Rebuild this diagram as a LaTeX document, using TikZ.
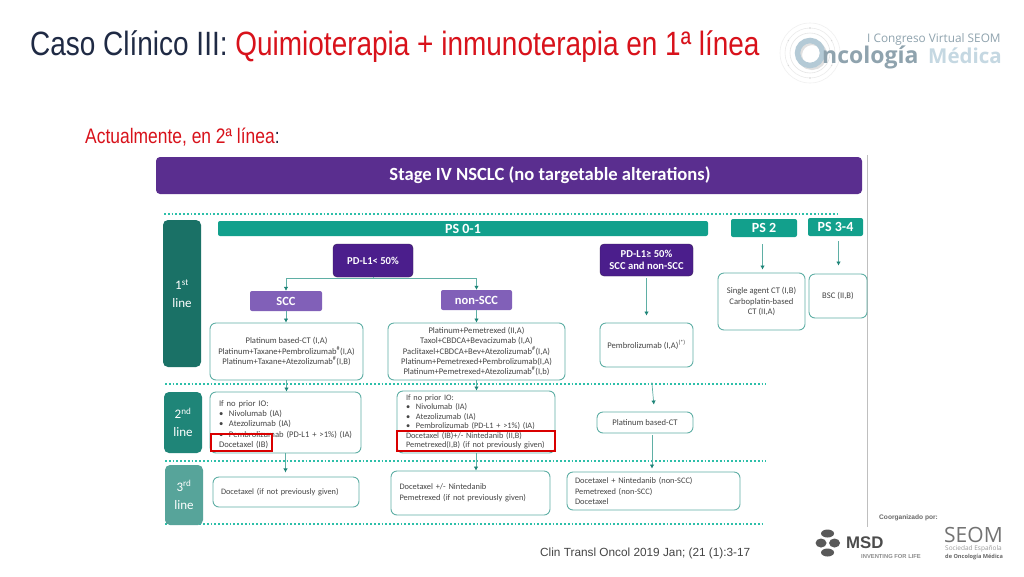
\documentclass[tikz,border=0pt]{standalone}
\usepackage{fontspec}
\setmainfont{Carlito}
\newfontfamily\arialfont{Liberation Sans}
\newfontfamily\narrowfont[FakeStretch=0.83]{Liberation Sans}
\newfontfamily\logofont{Open Sans}
\usetikzlibrary{arrows.meta}
\definecolor{titlenavy}{HTML}{1F2A44}
\definecolor{titlered}{HTML}{D8121B}
\definecolor{headpurple}{HTML}{5A2E8F}
\definecolor{deeppurple}{HTML}{4B1E8C}
\definecolor{softpurple}{HTML}{8160B8}
\definecolor{psteal}{HTML}{12A08C}
\definecolor{dotteal}{HTML}{2DBFA9}
\definecolor{edgeteal}{HTML}{5FAFA5}
\definecolor{tipteal}{HTML}{1F8578}
\definecolor{bodygrey}{HTML}{454545}
\definecolor{logoblue}{HTML}{B4CAD6}
\definecolor{logodark}{HTML}{8FA3AE}
\definecolor{logopale}{HTML}{C5D8E2}
\tikzset{
	drugbox/.style={draw=edgeteal, line width=0.9pt, rounded corners=6pt, inner sep=0pt, text=bodygrey, align=center, font=\fontsize{8.6}{10.2}\selectfont},
	listbox/.style={drugbox, align=left},
	linebox/.style={rounded corners=5pt, inner sep=0pt, text=white, align=center, font=\fontsize{13}{18}\selectfont},
	psbox/.style={fill=psteal, rounded corners=2pt, inner sep=0pt, text=white, font=\bfseries\fontsize{14}{16}\selectfont},
	pdbox/.style={fill=deeppurple, draw=headpurple!60!black, rounded corners=4pt, inner sep=0pt, text=white, align=center, font=\bfseries\fontsize{10.6}{12.5}\selectfont},
	histbox/.style={fill=softpurple, rounded corners=2pt, inner sep=0pt, text=white, font=\bfseries\fontsize{12.5}{14}\selectfont},
	redbox/.style={draw=red!85!black, line width=1.2pt, inner sep=0pt},
	flow/.style={draw=edgeteal, line width=0.7pt, -{Latex[length=4pt,width=4.5pt,color=tipteal]}},
	dotrule/.style={draw=dotteal, line width=1.7pt, dash pattern=on 1.7pt off 2.1pt}
}
\newcommand{\bitem}[1]{\mbox{\makebox[10pt][l]{\textbullet}#1}}
\begin{document}
\begin{tikzpicture}[x=1pt, y=-1pt]
	\useasboundingbox[fill=white] (0,0) rectangle (1024,576);

	\node[anchor=west, inner sep=0pt, text=titlenavy, font=\narrowfont\fontsize{33.7}{36}\selectfont] (title) at (30,47) {Caso Clínico III: \textcolor{titlered}{Quimioterapia + inmunoterapia en 1ª línea}};
	\node[anchor=west, inner sep=0pt, text=titlered, font=\narrowfont\fontsize{21}{24}\selectfont] (subtitle) at (85,137) {Actualmente, en 2ª línea\textcolor{titlenavy}{:}};

	\draw[black!25, line width=1pt] (867.5,155) -- (867.5,527);

	\node[fill=headpurple, rounded corners=4pt, minimum width=706pt, minimum height=37pt, inner sep=0pt, text=white, font=\bfseries\fontsize{18.6}{20}\selectfont] (stage) at (509,175.5) {\hspace{82pt}\raisebox{-1.5pt}{Stage IV NSCLC (no targetable alterations)}};

	\draw[dotrule] (164,214) -- (840,214);
	\draw[dotrule] (165,384) -- (766,384);
	\draw[dotrule] (165,461) -- (766,461);
	\draw[dotrule] (165,524) -- (762,524);

	\node[linebox, fill=tipteal!85!black, minimum width=38pt, minimum height=147pt] (first) at (182,293.5) {1\textsuperscript{st}\\line};
	\node[linebox, fill=tipteal, minimum width=38pt, minimum height=61pt] (second) at (183,422.5) {2\textsuperscript{nd}\\line};
	\node[linebox, fill=tipteal!75!white, minimum width=38pt, minimum height=60pt] (third) at (184,495) {3\textsuperscript{rd}\\line};

	\node[psbox, minimum width=490pt, minimum height=15pt] (psa) at (463,228.5) {PS 0-1};
	\node[psbox, minimum width=66pt, minimum height=18pt] (psb) at (764,228) {PS 2};
	\node[psbox, minimum width=55pt, minimum height=18pt] (psc) at (835.5,227) {PS 3-4};

	\node[pdbox, minimum width=80pt, minimum height=33pt] (pdlow) at (373,260.5) {PD-L1< 50\%};
	\node[pdbox, minimum width=93pt, minimum height=32pt] (pdhigh) at (646.5,260) {PD-L1≥ 50\%\\SCC and non-SCC};

	\node[histbox, minimum width=72pt, minimum height=20pt] (scc) at (286,301) {SCC};
	\node[histbox, minimum width=71pt, minimum height=20pt] (nonscc) at (476.5,300) {non-SCC};

	\node[drugbox, minimum width=153pt, minimum height=57pt] (sccone) at (286.5,351.5) {Platinum based-CT (I,A)\\Platinum+Taxane+Pembrolizumab\textsuperscript{\#}(I,A)\\Platinum+Taxane+Atezolizumab\textsuperscript{\#}(I,B)};
	\node[drugbox, minimum width=177pt, minimum height=57pt] (nonone) at (476.5,351.5) {Platinum+Pemetrexed (II,A)\\Taxol+CBDCA+Bevacizumab (I,A)\\Paclitaxel+CBDCA+Bev+Atezolizumab\textsuperscript{\#}(I,A)\\Platinum+Pemetrexed+Pembrolizumab(I,A)\\Platinum+Pemetrexed+Atezolizumab\textsuperscript{\#}(I,b)};
	\node[drugbox, minimum width=93pt, minimum height=44pt] (pembro) at (646.5,345) {Pembrolizumab (I,A)\textsuperscript{(*)}};
	\node[drugbox, minimum width=87pt, minimum height=57pt] (single) at (761.5,301.5) {Single agent CT (I,B)\\Carboplatin-based\\CT (II,A)};
	\node[drugbox, minimum width=58pt, minimum height=44pt] (bsc) at (838,296) {BSC (II,B)};

	\node[listbox, minimum width=151pt, minimum height=61pt, text width=133pt, font=\fontsize{8.6}{10.3}\selectfont] (scctwo) at (285.5,422.5) {\rule{0pt}{10pt}If no prior IO:\\\bitem{Nivolumab (IA)}\\\bitem{Atezolizumab (IA)}\\\bitem{Pembrolizumab (PD-L1 + >1\%) (IA)}\\Docetaxel (IB)};
	\node[listbox, minimum width=158pt, minimum height=62pt, text width=140pt, font=\fontsize{8.3}{9.5}\selectfont] (nontwo) at (476,422) {If no prior IO:\\\bitem{Nivolumab (IA)}\\\bitem{Atezolizumab (IA)}\\\bitem{Pembrolizumab (PD-L1 + >1\%) (IA)}\\Docetaxel (IB)+/- Nintedanib (II,B)\\Pemetrexed(I,B) (if not previously given)};
	\node[drugbox, minimum width=96pt, minimum height=21pt] (platin) at (645,422.5) {Platinum based-CT};

	\node[listbox, minimum width=146pt, minimum height=30pt, text width=130pt, font=\fontsize{8.3}{10}\selectfont] (sccthree) at (286,492) {Docetaxel (if not previously given)};
	\node[listbox, minimum width=159pt, minimum height=44pt, text width=142pt, font=\fontsize{8.4}{10.8}\selectfont] (nonthree) at (470.5,493) {Docetaxel +/- Nintedanib\\Pemetrexed (if not previously given)};
	\node[listbox, minimum width=173pt, minimum height=38pt, text width=157pt, font=\fontsize{8.4}{10.2}\selectfont] (pemthree) at (653.5,491) {Docetaxel + Nintedanib (non-SCC)\\Pemetrexed (non-SCC)\\Docetaxel};

	\node[redbox, minimum width=61pt, minimum height=17pt] (redscc) at (241.5,442.5) {};
	\node[redbox, minimum width=158pt, minimum height=20pt] (rednon) at (476,441) {};

	\draw[flow] (pdlow.south) -- ++(0,1) -| (scc.north);
	\draw[flow] (pdlow.south) -- ++(0,1) -| (nonscc.north);
	\draw[flow] (scc.south) -- (scc.south |- sccone.north);
	\draw[flow] (nonscc.south) -- (nonscc.south |- nonone.north);
	\draw[flow] (sccone.south) -- (sccone.south |- scctwo.north);
	\draw[flow] (nonone.south) -- (nonone.south |- nontwo.north);
	\draw[flow, shorten <=2pt, shorten >=7pt] (pdhigh.south) -- (pdhigh.south |- pembro.north);
	\draw[flow, shorten <=15pt, shorten >=7pt] ([xshift=4pt]pembro.south) -- ([xshift=9.5pt]platin.north);
	\draw[flow, shorten <=2pt, shorten >=3pt] ([xshift=7pt]platin.south) -- ([xshift=-1.5pt]pemthree.north);
	\draw[flow, shorten <=7pt, shorten >=3pt] ([xshift=-1.5pt]psb.south) -- ([xshift=1pt]single.north);
	\draw[flow, shorten <=5pt, shorten >=8pt] ([xshift=3pt]psc.south) -- ([xshift=0.5pt]bsc.north);
	\draw[flow] (scctwo.south) -- ++(0,19);
	\draw[flow] (nontwo.south) -- (nontwo.south |- nonthree.north);

	\foreach \ringr/\ringc in {30/black!6, 25/black!8, 20/black!10}
		\draw[\ringc, line width=0.6pt] (810,53) circle (\ringr pt);
	\foreach \dotang in {30,90,150,210,270,330}
		\fill[black!15] (810,53) ++(\dotang:25pt) circle (0.8pt);
	\draw[black!12, line width=5pt] (812,55) circle (12.5pt);
	\draw[logoblue, line width=5.5pt] (810,53) circle (12.5pt);
	\node[anchor=west, inner sep=0pt, text=logodark, font=\logofont\fontsize{11.8}{13}\selectfont] (congreso) at (867,39) {I Congreso Virtual SEOM};
	\node[anchor=base west, inner sep=0pt, text=logodark, font=\logofont\bfseries\fontsize{23}{25}\selectfont] (oncologia) at (822,63) {ncología};
	\node[anchor=base west, inner sep=0pt, text=logopale, font=\logofont\bfseries\fontsize{20.5}{25}\selectfont] (medica) at (928,63) {Médica};

	\node[anchor=west, inner sep=0pt, text=bodygrey, font=\arialfont\fontsize{11.8}{14}\selectfont] (cite) at (540,553) {Clin Transl Oncol 2019 Jan; (21 (1):3-17};
	\node[anchor=west, inner sep=0pt, text=black!60, font=\arialfont\bfseries\fontsize{6.6}{8}\selectfont] (coorg) at (879,518) {Coorganizado por:};

	\fill[black!65] (827.5,533.5) ellipse [x radius=6.5pt, y radius=4pt];
	\fill[black!65] (827.5,552.5) ellipse [x radius=6.5pt, y radius=4pt];
	\fill[black!65] (821,543) ellipse [x radius=5.5pt, y radius=4.5pt];
	\fill[black!65] (834.5,543) ellipse [x radius=5.5pt, y radius=4.5pt];
	\node[anchor=west, inner sep=0pt, text=black!70, font=\arialfont\bfseries\fontsize{16.8}{20}\selectfont] (msd) at (846,543) {MSD};
	\node[anchor=west, inner sep=0pt, text=black!45, font=\arialfont\bfseries\fontsize{5.8}{7}\selectfont] (inventing) at (861,556) {INVENTING FOR LIFE};

	\node[anchor=west, inner sep=0pt, text=black!55, font=\logofont\fontsize{21}{22}\selectfont] (seom) at (944,535) {SEOM};
	\node[anchor=west, inner sep=0pt, text=black!40, font=\logofont\fontsize{6.5}{8}\selectfont] (sociedad) at (945,549) {Sociedad Española};
	\node[anchor=west, inner sep=0pt, text=black!60, font=\logofont\bfseries\fontsize{5.6}{7}\selectfont] (oncomed) at (945,557) {de Oncología Médica};
\end{tikzpicture}
\end{document}
